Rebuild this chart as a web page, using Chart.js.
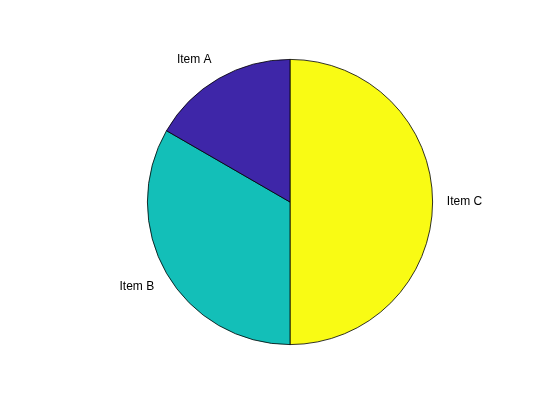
<!DOCTYPE html>
<html>
<head>
<meta charset="utf-8">
<script src="https://cdn.jsdelivr.net/npm/chart.js@4"></script>
<style>
  html, body { margin: 0; padding: 0; background: #fff; }
  #wrap { width: 560px; height: 420px; }
</style>
</head>
<body>
<div id="wrap"><canvas id="c"></canvas></div>
<script>
// drawn clockwise from the top, so listed in reverse of MATLAB's ccw order
const labels = ["Item C", "Item B", "Item A"];
const values = [3, 2, 1];
const colors = ["#f9fb14", "#13bfb8", "#3e26a8"];

// labels outside each slice, aligned away from the centre
const outsideLabels = {
  id: "outsideLabels",
  afterDatasetsDraw(chart) {
    const ctx = chart.ctx;
    const arcs = chart.getDatasetMeta(0).data;
    ctx.save();
    ctx.font = "12px Arial, 'Liberation Sans', sans-serif";
    ctx.fillStyle = "#000";
    arcs.forEach((arc, i) => {
      const mid = (arc.startAngle + arc.endAngle) / 2;
      const r = arc.outerRadius * 1.1;
      const x = arc.x + Math.cos(mid) * r;
      const y = arc.y + Math.sin(mid) * r;
      const c = Math.cos(mid);
      ctx.textAlign = Math.abs(c) < 0.01 ? "center" : (c > 0 ? "left" : "right");
      const s = Math.sin(mid);
      ctx.textBaseline = s < -0.5 ? "bottom" : (s > 0.5 ? "top" : "middle");
      ctx.fillText(labels[i], x, y);
    });
    ctx.restore();
  },
};

new Chart(document.getElementById("c"), {
  type: "pie",
  data: {
    labels: labels,
    datasets: [{
      data: values,
      backgroundColor: colors,
      borderColor: "#000",
      borderWidth: 0.8,
    }],
  },
  options: {
    responsive: true, maintainAspectRatio: false, animation: false,
    layout: { padding: { left: 147, right: 127, top: 59, bottom: 75 } },
    plugins: { legend: { display: false }, tooltip: { enabled: false } },
  },
  plugins: [outsideLabels],
});
</script>
</body>
</html>
